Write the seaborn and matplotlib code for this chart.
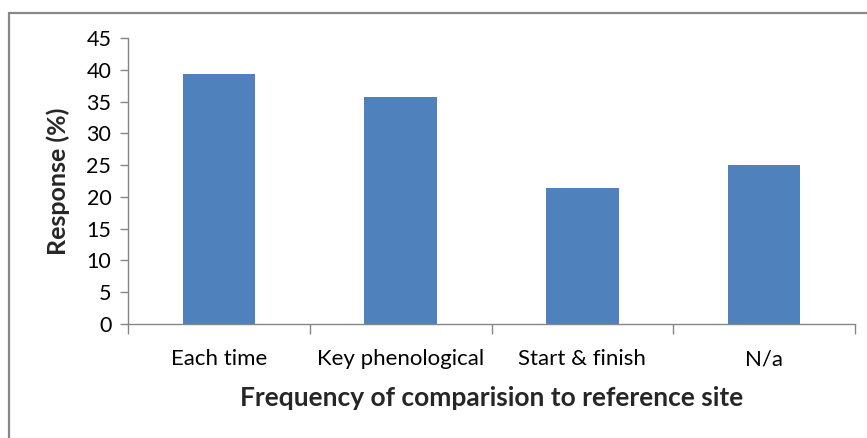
import matplotlib
matplotlib.use("Agg")
import matplotlib.pyplot as plt
import seaborn as sns
import pandas as pd
from matplotlib.lines import Line2D

categories = ["Each time", "Key phenological", "Start & finish", "N/a"]
values = [39.3, 35.7, 21.4, 25.0]
y_ticks = [0, 5, 10, 15, 20, 25, 30, 35, 40, 45]

sns.set_theme(style="white")
plt.rcParams['font.family'] = ['Lato', 'DejaVu Sans']

df = pd.DataFrame({"cat": categories, "val": values})

W, H = 867, 438
fig = plt.figure(figsize=(W / 100, H / 100), dpi=100)
ax = fig.add_axes([128 / W, 1 - 324 / H, (855 - 128) / W, (324 - 38) / H])

sns.barplot(data=df, x="cat", y="val", order=categories, color="#4F81BD",
            saturation=1, width=0.4, ax=ax, edgecolor="none")

axis_c = "#868686"
ax.set_ylim(0, 45)
ax.set_yticks(y_ticks)
ax.set_yticklabels([str(t) for t in y_ticks], fontsize=15.5, color="#000000")
n = len(categories)
ax.set_xlim(-0.5, n - 0.5)
ax.set_xticks([i - 0.5 for i in range(n + 1)])
ax.set_xticklabels([""] * (n + 1))
ax.set_xticks(list(range(n)), minor=True)
ax.set_xticklabels(categories, minor=True, fontsize=16, color="#000000")
ax.tick_params(axis="x", which="minor", length=0, pad=18)
ax.tick_params(axis="x", which="major", length=7, width=1, color=axis_c, direction="out", bottom=True)
ax.tick_params(axis="y", length=6, width=1, color=axis_c, direction="out", left=True, pad=6)

for s in ["top", "right"]:
    ax.spines[s].set_visible(False)
for s in ["left", "bottom"]:
    ax.spines[s].set_color(axis_c)
    ax.spines[s].set_linewidth(1)

ax.set_ylabel("Response (%)", fontsize=18, fontweight="bold", labelpad=12)
ax.set_xlabel("Frequency of comparision to reference site", fontsize=19,
              fontweight="bold", labelpad=12)
ax.grid(False)

# outer chart border (cropped)
bx, by = 8.5 / W, 1 - 12.5 / H
fig.add_artist(Line2D([bx, bx], [by, -0.1], transform=fig.transFigure, color="#878787", lw=1.6))
fig.add_artist(Line2D([bx, 1.1], [by, by], transform=fig.transFigure, color="#878787", lw=1.6))

fig.savefig("out.png", dpi=100)
